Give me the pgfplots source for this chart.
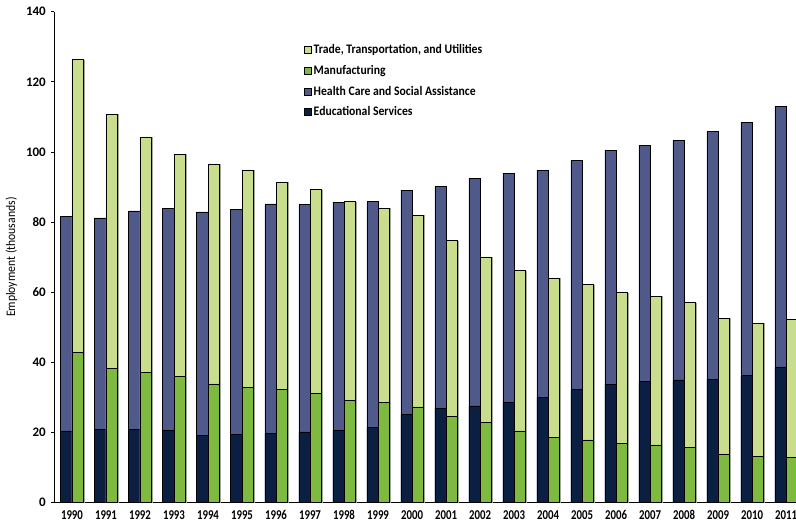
\documentclass[border=0pt]{standalone}
\usepackage{fontspec}
\setmainfont{Carlito}
\newfontfamily\condfont[FakeStretch=0.8]{Carlito}
\newfontfamily\semifont[FakeStretch=0.9]{Carlito}
\usepackage{pgfplots}
\usepackage{pgfplotstable}
\pgfplotsset{compat=1.18}
\definecolor{edu}{HTML}{0B1F42}
\definecolor{health}{HTML}{505A8A}
\definecolor{mfg}{HTML}{7DBA3F}
\definecolor{trade}{HTML}{C9DE8D}

% totals: healthtot = Educational + Health Care (stack top), tradetot = Manufacturing + Trade (stack top)
\pgfplotstableread{
year edu healthtot mfg tradetot
1990 20.5 81.7 42.8 126.4
1991 20.9 81.2 38.3 110.8
1992 20.9 83.2 37.1 104.3
1993 20.7 84.0 35.9 99.4
1994 19.2 82.9 33.9 96.6
1995 19.5 83.7 32.9 94.9
1996 19.8 85.2 32.2 91.4
1997 20.2 85.1 31.1 89.3
1998 20.7 85.7 29.2 85.8
1999 21.5 85.8 28.5 84.0
2000 25.2 89.1 27.3 82.0
2001 27.0 90.1 24.6 74.8
2002 27.6 92.5 22.9 70.1
2003 28.6 93.8 20.5 66.2
2004 30.1 94.8 18.6 64.1
2005 32.2 97.7 17.9 62.2
2006 33.8 100.5 16.9 59.9
2007 34.5 101.9 16.5 58.9
2008 35.0 103.3 15.7 57.1
2009 35.2 105.8 13.9 52.6
2010 36.2 108.4 13.2 51.2
2011 38.7 113.0 12.9 52.3
}\data

\begin{document}
\begin{tikzpicture}
\begin{axis}[
  name=ax,
  scale only axis,
  width=741.7pt, height=491pt,
  xmin=1989.48, xmax=2011.29,
  ymin=0, ymax=140,
  axis lines*=left,
  axis line style={black, line width=0.9pt},
  ytick={0,20,...,140},
  xtick={1990,...,2011},
  tick align=outside,
  major tick length=3pt,
  xtick style={draw=none},
  ytick style={black, line width=0.8pt},
  /pgf/number format/assume math mode=true,
  /pgf/number format/set thousands separator={},
  yticklabel style={font=\bfseries\fontsize{13}{13}\selectfont, xshift=-2pt},
  xticklabel style={font=\condfont\bfseries\fontsize{13.5}{13.5}\selectfont, yshift=-1pt},
  ylabel={Employment (thousands)},
  every axis y label/.style={at={(rel axis cs:0,0.5)}, xshift=-42.8pt, rotate=90, anchor=center,
    font=\semifont\fontsize{13}{13}\selectfont},
  legend style={at={(axis cs:1996.82,131.2)}, anchor=north west, draw=none, fill=none,
    inner sep=0pt, row sep=6pt, font=\semifont\bfseries\fontsize{13}{13}\selectfont,
    /tikz/every even column/.append style={column sep=3pt}},
  legend cell align=left,
  legend image code/.code={\draw[#1, line width=0.6pt] (0pt,-3.5pt) rectangle (7pt,3.5pt);},
]
\addlegendimage{fill=trade, draw=black}
\addlegendentry{Trade, Transportation, and Utilities}
\addlegendimage{fill=mfg, draw=black}
\addlegendentry{Manufacturing}
\addlegendimage{fill=health, draw=black}
\addlegendentry{Health Care and Social Assistance}
\addlegendimage{fill=edu, draw=black}
\addlegendentry{Educational Services}

\addplot[ybar, bar width=0.33, bar shift=-0.165, fill=health, draw=black, line width=0.6pt, forget plot] table[x=year, y=healthtot]{\data};
\addplot[ybar, bar width=0.33, bar shift=-0.165, fill=edu, draw=black, line width=0.6pt, forget plot] table[x=year, y=edu]{\data};
\addplot[ybar, bar width=0.33, bar shift=0.165, fill=trade, draw=black, line width=0.6pt, forget plot,
  preaction={fill=gray!70, draw=gray!70, transform canvas={xshift=1.3pt, yshift=-0.5pt}}] table[x=year, y=tradetot]{\data};
\addplot[ybar, bar width=0.33, bar shift=0.165, fill=mfg, draw=black, line width=0.6pt, forget plot] table[x=year, y=mfg]{\data};
\end{axis}
\pgfresetboundingbox
\path[use as bounding box] ([shift={(-54.3pt,-20.3pt)}]ax.south west) rectangle ++(796pt,523pt);
\end{tikzpicture}
\end{document}
